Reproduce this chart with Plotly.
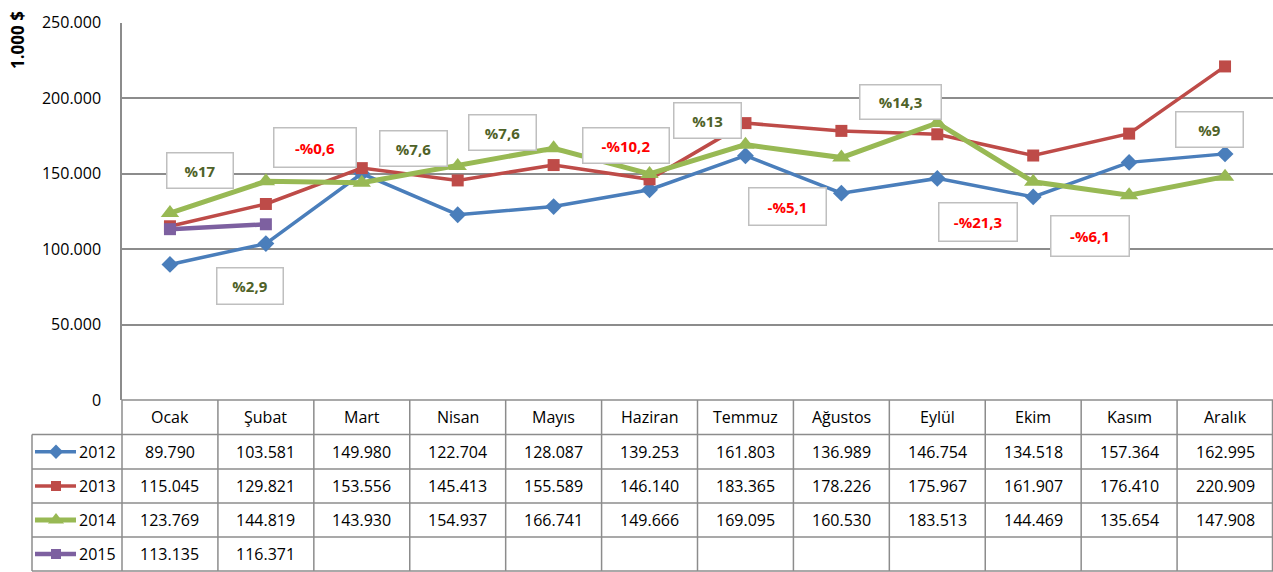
import plotly.graph_objects as go

# ---------------- data ----------------
months = ["Ocak", "Şubat", "Mart", "Nisan", "Mayıs", "Haziran", "Temmuz",
          "Ağustos", "Eylül", "Ekim", "Kasım", "Aralık"]
years = ["2012", "2013", "2014", "2015"]
v2012 = [89790, 103581, 149980, 122704, 128087, 139253, 161803, 136989, 146754, 134518, 157364, 162995]
v2013 = [115045, 129821, 153556, 145413, 155589, 146140, 183365, 178226, 175967, 161907, 176410, 220909]
v2014 = [123769, 144819, 143930, 154937, 166741, 149666, 169095, 160530, 183513, 144469, 135654, 147908]
v2015 = [113135, 116371]
series = [v2012, v2013, v2014, v2015]
y_ticks = [0, 50000, 100000, 150000, 200000, 250000]
change_labels = ["%17", "%2,9", "-%0,6", "%7,6", "%7,6", "-%10,2", "%13",
                 "-%5,1", "%14,3", "-%21,3", "-%6,1", "%9"]
change_negative = [False, False, True, False, False, True, False, True, False, True, True, False]

# ---------------- layout constants (pixels) ----------------
W, H = 1273, 572
L, R, T, B = 122, 1273, 22.5, 400
LEG_L = 32
row_edges = [400, 434.5, 469, 503, 537, 571]
label_pos = [(200, 170), (250, 286), (315, 147), (413, 149), (502, 132), (626, 145),
             (708, 120), (787, 206), (900, 102), (978, 222), (1090, 236), (1209, 129)]
label_size = [(67, 36), (67, 37), (83, 40), (68, 36), (68, 36), (87, 36),
              (68, 36), (78, 38), (82, 35), (79, 39), (79, 41), (68, 36)]

styles = [
    dict(color="#4A7EBB", symbol="diamond", size=13, width=3.5),
    dict(color="#BE4B48", symbol="square", size=12, width=3.5),
    dict(color="#98B954", symbol="triangle-up", size=16, width=5),
    dict(color="#7D60A0", symbol="square", size=12, width=4.5),
]

FONT = "Open Sans"
GRID = "#8C8C8C"
FS = 16


def px(x):
    return x / W


def py(y):
    return 1 - y / H


def fmt(v):
    return f"{v:,}".replace(",", ".")


fig = go.Figure()

for yr, vals, st in zip(years, series, styles):
    fig.add_trace(go.Scatter(
        x=list(range(len(vals))), y=vals, name=yr, mode="lines+markers",
        line=dict(color=st["color"], width=st["width"]),
        marker=dict(symbol=st["symbol"], size=st["size"], color=st["color"]),
        showlegend=False, cliponaxis=False, hoverinfo="x+y",
    ))

shapes = []
annotations = []

# table grid
colw = (R - L) / len(months)
for i in range(len(months) + 1):
    x = L + i * colw
    if i == len(months):
        x = R - 0.5
    shapes.append(dict(type="line", xref="paper", yref="paper",
                       x0=px(x), x1=px(x), y0=py(row_edges[0]), y1=py(row_edges[-1]),
                       line=dict(color=GRID, width=1.5)))
shapes.append(dict(type="line", xref="paper", yref="paper",
                   x0=px(LEG_L), x1=px(LEG_L), y0=py(row_edges[1]), y1=py(row_edges[-1]),
                   line=dict(color=GRID, width=1.5)))
for k, yy in enumerate(row_edges):
    x0 = L if k == 0 else LEG_L
    shapes.append(dict(type="line", xref="paper", yref="paper",
                       x0=px(x0), x1=px(R), y0=py(yy), y1=py(yy),
                       line=dict(color=GRID, width=1.5)))

# header labels
hy = (row_edges[0] + row_edges[1]) / 2
for i, m in enumerate(months):
    annotations.append(dict(xref="paper", yref="paper", x=px(L + (i + 0.5) * colw), y=py(hy),
                            text=m, showarrow=False, xanchor="center", yanchor="middle",
                            font=dict(family=FONT, size=FS, color="#000000")))

# values and legend keys
for r, (yr, vals, st) in enumerate(zip(years, series, styles)):
    cy = (row_edges[r + 1] + row_edges[r + 2]) / 2
    for i, v in enumerate(vals):
        annotations.append(dict(xref="paper", yref="paper", x=px(L + (i + 0.5) * colw), y=py(cy),
                                text=fmt(v), showarrow=False, xanchor="center", yanchor="middle",
                                font=dict(family=FONT, size=FS, color="#000000")))
    annotations.append(dict(xref="paper", yref="paper", x=px(77), y=py(cy),
                            text=yr, showarrow=False, xanchor="left", yanchor="middle",
                            font=dict(family=FONT, size=FS, color="#000000")))
    shapes.append(dict(type="line", xref="x2", yref="y2", x0=35, x1=76, y0=cy, y1=cy,
                       line=dict(color=st["color"], width=st["width"])))
    fig.add_trace(go.Scatter(x=[56], y=[cy], xaxis="x2", yaxis="y2", mode="markers",
                             marker=dict(symbol=st["symbol"], size=st["size"] - 2, color=st["color"]),
                             showlegend=False, hoverinfo="skip", cliponaxis=False))

# change labels
for lab, neg, (cx, cy), (bw, bh) in zip(change_labels, change_negative, label_pos, label_size):
    annotations.append(dict(xref="paper", yref="paper", x=px(cx), y=py(cy),
                            text=f"<b>{lab}</b>", showarrow=False, xanchor="center", yanchor="middle",
                            width=bw - 2, height=bh - 2, borderpad=0, align="center",
                            bgcolor="#FFFFFF", bordercolor="#BFBFBF", borderwidth=1.5,
                            font=dict(family=FONT, size=15, color="#FF0000" if neg else "#4F6228")))

# y axis title
annotations.append(dict(xref="paper", yref="paper", x=px(18), y=py(40),
                        text="<b>1.000 $</b>", showarrow=False, textangle=-90,
                        xanchor="center", yanchor="middle",
                        font=dict(family=FONT, size=17, color="#000000")))

fig.update_layout(
    width=W, height=H, autosize=False,
    margin=dict(l=0, r=0, t=0, b=0, pad=0, autoexpand=False),
    paper_bgcolor="#FFFFFF", plot_bgcolor="rgba(0,0,0,0)",
    separators=",.",
    xaxis=dict(domain=[px(L), 1], range=[-0.5, len(months) - 0.5], visible=False,
               fixedrange=True, automargin=False),
    yaxis=dict(domain=[py(B), py(T)], range=[0, 250000], tickvals=y_ticks, tickformat=",d",
               showgrid=True, gridcolor=GRID, gridwidth=1.5, zeroline=False,
               showline=True, linecolor=GRID, linewidth=1.5, ticks="", ticklabelstandoff=16,
               tickfont=dict(family=FONT, size=FS, color="#000000"), fixedrange=True,
               automargin=False),
    xaxis2=dict(domain=[0, 1], range=[0, W], visible=False, anchor="y2", fixedrange=True,
                automargin=False),
    yaxis2=dict(domain=[0, 1], range=[H, 0], visible=False, anchor="x2", fixedrange=True,
                automargin=False),
    shapes=shapes, annotations=annotations,
)

fig.write_html(
    "out.html",
    config={"responsive": False, "displayModeBar": False},
    post_script="document.body.style.margin='0';document.body.style.overflow='hidden';",
)
